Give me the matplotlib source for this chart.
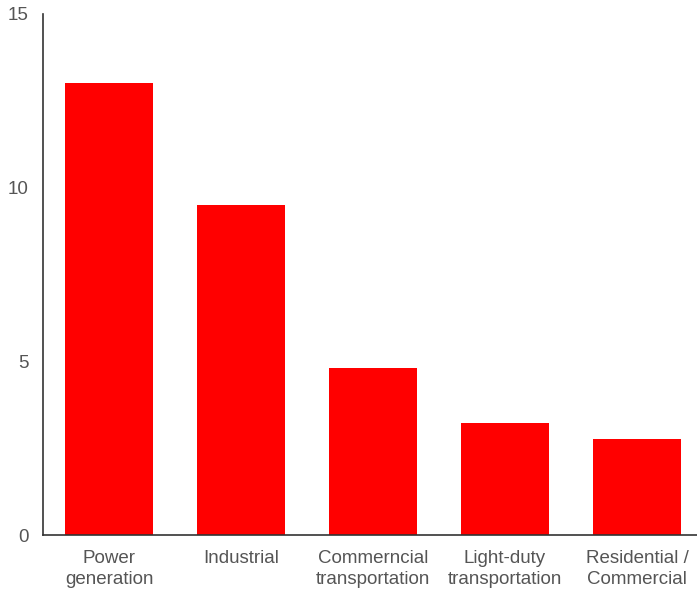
import matplotlib
matplotlib.use("Agg")
import matplotlib.pyplot as plt

categories = ["Power\ngeneration", "Industrial", "Commerncial\ntransportation",
              "Light-duty\ntransportation", "Residential /\nCommercial"]
values = [13.0, 9.5, 4.8, 3.22, 2.75]
yticks = [0, 5, 10, 15]

plt.rcParams['font.family'] = ['Liberation Sans', 'DejaVu Sans']
fig = plt.figure(figsize=(6.97, 5.95), dpi=100)
ax = fig.add_axes([43/697, 60/595, 660/697, 521/595])
x = range(len(categories))
ax.bar(x, values, width=0.66, color="#ff0000")
ax.set_xlim(-0.5, 4.5)
ax.set_ylim(0, 15)
ax.set_yticks(yticks)
ax.set_yticklabels([str(t) for t in yticks])
ax.set_xticks(list(x))
ax.set_xticklabels(categories, linespacing=1.25)
ax.tick_params(length=0, labelsize=13.5, labelcolor="#555555")
ax.tick_params(axis='y', pad=10.5)
ax.tick_params(axis='x', pad=11)
for s in ["top", "right"]:
    ax.spines[s].set_visible(False)
for s in ["left", "bottom"]:
    ax.spines[s].set_color("#333333")
    ax.spines[s].set_linewidth(1.2)
fig.savefig("out.png", dpi=100)
